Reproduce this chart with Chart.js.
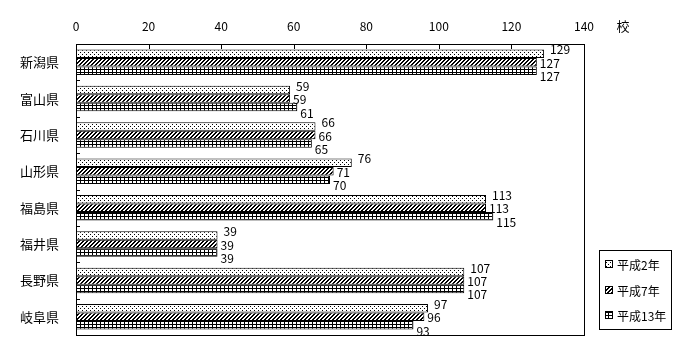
<!DOCTYPE html>
<html><head><meta charset="utf-8">
<script src="https://cdn.jsdelivr.net/npm/chart.js@4/dist/chart.umd.min.js"></script>
<style>html,body{margin:0;padding:0;background:#fff;}canvas{display:block;}</style>
</head><body>
<canvas id="c" width="700" height="360"></canvas>
<script>
const categories = ['新潟県','富山県','石川県','山形県','福島県','福井県','長野県','岐阜県'];
const seriesNames = ['平成2年','平成7年','平成13年'];
const valuesH2  = [129, 59, 66, 76, 113, 39, 107, 97];
const valuesH7  = [127, 59, 66, 71, 113, 39, 107, 96];
const valuesH13 = [127, 61, 65, 70, 115, 39, 107, 93];
const xTicks = [0, 20, 40, 60, 80, 100, 120, 140];
const unitLabel = '校';
const FONT = "'Noto Sans CJK JP', 'Liberation Sans', sans-serif";

function makePattern(w, h, pixels, bg) {
  const c = document.createElement('canvas');
  c.width = w; c.height = h;
  const g = c.getContext('2d');
  g.fillStyle = bg; g.fillRect(0, 0, w, h);
  g.fillStyle = '#000';
  pixels.forEach(p => g.fillRect(p[0], p[1], 1, 1));
  return g.createPattern(c, 'repeat');
}
const patDots = makePattern(4, 4, [[0,0],[2,2]], '#fff');
const patHatch = makePattern(4, 4, [[3,0],[2,1],[1,2],[0,3],[0,0],[3,1],[2,2],[1,3]], '#fff');
const gridPix = [];
for (let i = 0; i < 4; i++) gridPix.push([i, 0]);
for (let j = 0; j < 3; j++) gridPix.push([0, j]);
const patGrid = makePattern(4, 3, gridPix, '#fff');
const patterns = [patDots, patHatch, patGrid];

const labelOffsets = [[6, -4], [3, 1], [3, 6]];

const decorPlugin = {
  id: 'decor',
  afterDatasetsDraw(chart) {
    const g = chart.ctx;
    const a = chart.chartArea;
    const xs = chart.scales.x;
    g.save();
    g.strokeStyle = '#000'; g.lineWidth = 1;
    const L = Math.round(a.left), R = Math.round(a.right), T = Math.round(a.top), B = Math.round(a.bottom);
    g.strokeRect(L + 0.5, T + 0.5, R - L, B - T);
    // x inner ticks
    xTicks.forEach(v => {
      const x = Math.round(xs.getPixelForValue(v)) + 0.5;
      g.beginPath(); g.moveTo(x, a.top); g.lineTo(x, a.top + 5); g.stroke();
    });
    // y inner ticks at category boundaries
    const n = categories.length;
    const band = (a.bottom - a.top) / n;
    for (let i = 1; i < n; i++) {
      const y = Math.round(a.top + band * i) + 0.5;
      g.beginPath(); g.moveTo(a.left, y); g.lineTo(a.left + 4, y); g.stroke();
    }
    // data labels
    g.fillStyle = '#000';
    g.font = '12px ' + FONT;
    g.textAlign = 'left'; g.textBaseline = 'middle';
    chart.data.datasets.forEach((ds, di) => {
      const meta = chart.getDatasetMeta(di);
      meta.data.forEach((el, i) => {
        g.fillText(String(ds.data[i]), el.x + labelOffsets[di][0], el.y + labelOffsets[di][1]);
      });
    });
    // unit label
    g.font = '13px ' + FONT;
    g.textAlign = 'center';
    g.fillText(unitLabel, 623, 26);
    // legend
    g.strokeRect(599.5, 250.5, 72, 79);
    const rows = [264, 290, 315];
    g.font = '12px ' + FONT;
    g.textAlign = 'left';
    chart.data.datasets.forEach((ds, di) => {
      const y = rows[di];
      g.fillStyle = ds.backgroundColor;
      g.fillRect(605, y - 4, 8, 8);
      g.strokeStyle = '#000';
      g.strokeRect(605.5, y - 3.5, 7, 7);
      g.fillStyle = '#000';
      g.fillText(ds.label, 617, y + 1);
    });
    g.restore();
  }
};

new Chart(document.getElementById('c'), {
  type: 'bar',
  data: {
    labels: categories,
    datasets: [
      { label: seriesNames[0], data: valuesH2, backgroundColor: patterns[0] },
      { label: seriesNames[1], data: valuesH7, backgroundColor: patterns[1] },
      { label: seriesNames[2], data: valuesH13, backgroundColor: patterns[2] }
    ].map(d => Object.assign(d, { borderColor: '#000', borderWidth: 1, borderSkipped: false, categoryPercentage: 0.7, barPercentage: 1.0 }))
  },
  options: {
    indexAxis: 'y',
    responsive: false,
    animation: false,
    devicePixelRatio: 1,
    layout: { padding: { left: 0, right: 116, top: 0, bottom: 25 } },
    plugins: { legend: { display: false }, tooltip: { enabled: false } },
    scales: {
      x: {
        position: 'top', min: 0, max: 140,
        afterBuildTicks(s) { s.ticks = xTicks.map(v => ({ value: v })); },
        afterFit(s) { s.height = 44; },
        ticks: { color: '#000', font: { family: FONT, size: 12 }, padding: 2, maxRotation: 0 },
        grid: { display: false }, border: { display: false }
      },
      y: {
        afterFit(s) { s.width = 76; },
        ticks: { color: '#000', font: { family: FONT, size: 13 }, padding: 9 },
        grid: { display: false }, border: { display: false }
      }
    }
  },
  plugins: [decorPlugin]
});
</script>
</body></html>
